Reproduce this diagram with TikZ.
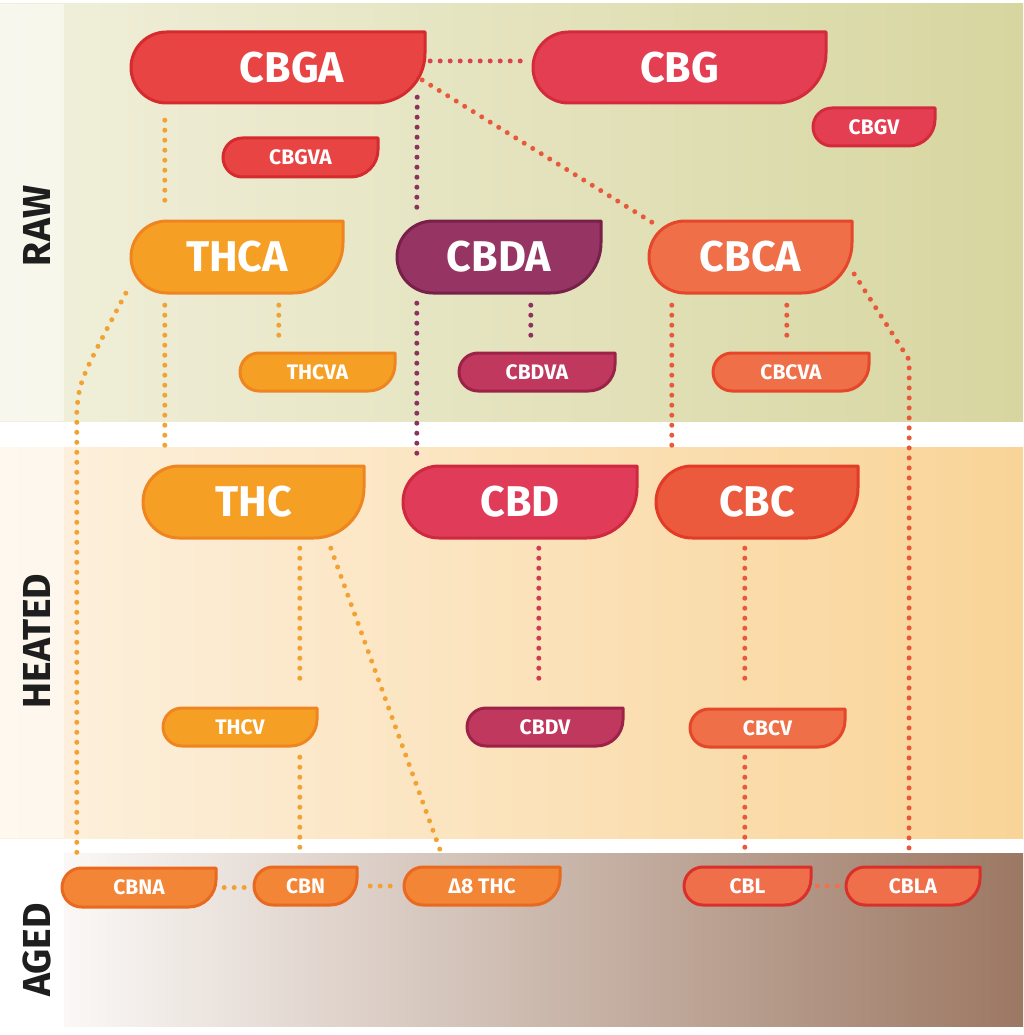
\documentclass[tikz,border=0pt]{standalone}
\usepackage{fontspec}
\setmainfont{Fira Sans}
\definecolor{rawL}{HTML}{F1F0DC}
\definecolor{rawR}{HTML}{D7D6A0}
\definecolor{heatL}{HTML}{FDF1E0}
\definecolor{heatR}{HTML}{F9D497}
\definecolor{agedL}{HTML}{FAF8F6}
\definecolor{agedM}{HTML}{C6AE9F}
\definecolor{agedR}{HTML}{9C7863}
\definecolor{cRed}{HTML}{E84444}\definecolor{cRedD}{HTML}{D52B2E}
\definecolor{cCrim}{HTML}{E33E52}\definecolor{cCrimD}{HTML}{D42B3C}
\definecolor{cOr}{HTML}{F5A024}\definecolor{cOrD}{HTML}{EE8520}
\definecolor{cPlum}{HTML}{963564}\definecolor{cPlumD}{HTML}{77214A}
\definecolor{cBerry}{HTML}{C1385F}\definecolor{cBerryD}{HTML}{9C2348}
\definecolor{cCoral}{HTML}{EE6F48}\definecolor{cCoralD}{HTML}{E5472B}
\definecolor{cPink}{HTML}{E03C5A}\definecolor{cPinkD}{HTML}{CF2940}
\definecolor{cCbc}{HTML}{EB5A3C}\definecolor{cCbcD}{HTML}{E23B26}
\definecolor{cAor}{HTML}{F28536}\definecolor{cAorD}{HTML}{E8691F}
\definecolor{cAco}{HTML}{EF6F4A}\definecolor{cAcoD}{HTML}{D9302B}
\definecolor{dOrange}{HTML}{F2A233}
\definecolor{dPlum}{HTML}{8C3160}
\definecolor{dRed}{HTML}{D9434F}
\definecolor{dCoral}{HTML}{E8583A}
\definecolor{dPink}{HTML}{D23A55}
\definecolor{dCbl}{HTML}{F07050}
\definecolor{labcol}{HTML}{1E1E1E}
\tikzset{
  leafstyle/.style={line width=3pt, line join=round},
  leaftext/.style={inner sep=0pt, text=white},
  big/.style={font=\fontsize{43}{43}\selectfont\bfseries},
  small/.style={font=\fontsize{21}{21}\selectfont\bfseries},
  sRed/.style={fill=cRed, draw=cRedD},
  sCrim/.style={fill=cCrim, draw=cCrimD},
  sOrange/.style={fill=cOr, draw=cOrD},
  sPlum/.style={fill=cPlum, draw=cPlumD},
  sBerry/.style={fill=cBerry, draw=cBerryD},
  sCoral/.style={fill=cCoral, draw=cCoralD},
  sPink/.style={fill=cPink, draw=cPinkD},
  sCbc/.style={fill=cCbc, draw=cCbcD},
  sAor/.style={fill=cAor, draw=cAorD},
  sAcoral/.style={fill=cAco, draw=cAcoD},
  dotline/.style={line width=5pt, line cap=round, dash pattern=on 0pt off 10pt},
  sidelabel/.style={rotate=90, text=labcol, inner sep=0pt, font=\fontsize{39}{39}\selectfont\bfseries},
}
% name, x0, y0, x1, y1 (pixels, y down), colour style, text style, text
\newcommand\leaf[8]{%
  \pgfmathsetmacro\lh{#5-#3}%
  \pgfmathsetmacro\lr{\lh/2}%
  \pgfmathsetmacro\lc{0.7*\lh}%
  \path[leafstyle,#6] (#2+\lr,-#3) -- (#4,-#3) -- (#4,-#5+\lc)
    arc[start angle=0,end angle=-90,radius=\lc] -- (#2+\lr,-#5)
    arc[start angle=270,end angle=90,radius=\lr] -- cycle;
  \node[leaftext,#7,minimum width={(#4-#2)*1pt},minimum height={\lh*1pt}] (#1)
    at ({(#2+#4)/2},{-(#3+#5)/2}) {#8};
}
\begin{document}
\begin{tikzpicture}[x=1pt,y=1pt]
\useasboundingbox (0,0) rectangle (1023,-1035);
\fill[white] (0,0) rectangle (1023,-1035);
% bands
\shade[left color=rawL, right color=rawR] (0,-4) rectangle (1023,-421);
\shade[left color=heatL, right color=heatR] (0,-447) rectangle (1023,-838);
\shade[left color=agedL, middle color=agedM, right color=agedR] (64,-853) rectangle (1023,-1026);
\fill[white, opacity=0.5] (0,-4) rectangle (64,-421);
\fill[white, opacity=0.5] (0,-447) rectangle (64,-838);
% side labels
\node[sidelabel] (raw) at (37,-226) {RAW};
\node[sidelabel] (heated) at (37,-641) {HEATED};
\node[sidelabel] (aged) at (37,-950) {AGED};
% nodes
\leaf{cbga}{131}{32}{425}{103}{sRed}{big}{\hspace*{28pt}CBGA}
\leaf{cbg}{533}{32}{826}{103}{sCrim}{big}{CBG}
\leaf{cbgv}{813}{108}{935}{146}{sCrim}{small}{CBGV}
\leaf{cbgva}{223}{138}{378}{177}{sRed}{small}{CBGVA}
\leaf{thca}{131}{221}{343}{293}{sOrange}{big}{THCA}
\leaf{cbda}{397}{221}{601}{293}{sPlum}{big}{CBDA}
\leaf{cbca}{649}{221}{852}{293}{sCoral}{big}{CBCA}
\leaf{thcva}{240}{353}{395}{391}{sOrange}{small}{THCVA}
\leaf{cbdva}{459}{353}{615}{391}{sBerry}{small}{CBDVA}
\leaf{cbcva}{713}{353}{869}{391}{sCoral}{small}{CBCVA}
\leaf{thc}{143}{466}{364}{538}{sOrange}{big}{THC}
\leaf{cbd}{403}{466}{637}{538}{sPink}{big}{CBD}
\leaf{cbc}{656}{466}{858}{538}{sCbc}{big}{CBC}
\leaf{thcv}{163}{708}{317}{746}{sOrange}{small}{THCV}
\leaf{cbdv}{467}{708}{623}{746}{sBerry}{small}{CBDV}
\leaf{cbcv}{690}{709}{845}{747}{sCoral}{small}{CBCV}
\leaf{cbna}{62}{868}{216}{907}{sAor}{small}{CBNA}
\leaf{cbn}{254}{867}{357}{905}{sAor}{small}{CBN}
\leaf{deltathc}{404}{867}{560}{905}{sAor}{small}{Δ8 THC}
\leaf{cbl}{684}{867}{811}{905}{sAcoral}{small}{CBL}
\leaf{cbla}{846}{867}{980}{905}{sAcoral}{small}{CBLA}
% connectors
\draw[dotline, dRed] ([xshift=5pt,yshift=6.5pt]cbga.east) -- ([xshift=-10pt,yshift=6.5pt]cbg.west);
\draw[dotline, dOrange] ([xshift=34pt,yshift=-17pt]cbga.south west) -- ([xshift=34pt,yshift=16pt]thca.north west);
\draw[dotline, dOrange] ([xshift=34pt,yshift=-12pt]thca.south west) -- ([xshift=22pt,yshift=11pt]thc.north west);
\draw[dotline, dPlum] ([xshift=-8pt,yshift=6pt]cbga.south east) -- ([xshift=20pt,yshift=11pt]cbda.north west);
\draw[dotline, dPlum] ([xshift=20pt,yshift=-10pt]cbda.south west) -- ([xshift=14pt,yshift=11pt]cbd.north west);
\draw[dotline, dCoral] ([xshift=-3pt,yshift=-12.5pt]cbga.east) -- ([xshift=4pt,yshift=-2pt]cbca.north west);
\draw[dotline, dOrange] ([xshift=148pt,yshift=-12pt]thca.south west) -- ([xshift=39pt,yshift=11pt]thcva.north west);
\draw[dotline, dPlum] ([xshift=134pt,yshift=-12pt]cbda.south west) -- ([xshift=72pt,yshift=11pt]cbdva.north west);
\draw[dotline, dCoral] ([xshift=138pt,yshift=-12pt]cbca.south west) -- ([xshift=74pt,yshift=11pt]cbcva.north west);
\draw[dotline, dCoral] ([xshift=23pt,yshift=-12pt]cbca.south west) -- ([xshift=16pt,yshift=11pt]cbc.north west);
\draw[dotline, dCoral] ([xshift=2pt,yshift=-17pt]cbca.east) -- ++(55,-86) -- ([xshift=-4pt,yshift=12pt]cbla.north);
\draw[dotline, dOrange] ([xshift=-5pt]thca.south west) .. controls +(-46,-87) and +(3,30) .. ++(-49,-117) -- ([xshift=15pt,yshift=13pt]cbna.north west);
\draw[dotline, dOrange] ([xshift=157pt,yshift=-10pt]thc.south west) -- ([xshift=137pt,yshift=20pt]thcv.north west);
\draw[dotline, dOrange] ([xshift=137pt,yshift=-11pt]thcv.south west) -- ([xshift=46pt,yshift=14pt]cbn.north west);
\draw[dotline, dOrange] ([xshift=188pt,yshift=-10pt]thc.south west) -- ([xshift=38pt,yshift=12pt]deltathc.north west);
\draw[dotline, dPink] ([xshift=136pt,yshift=-10pt]cbd.south west) -- ([xshift=72pt,yshift=20pt]cbdv.north west);
\draw[dotline, dCoral] ([xshift=89pt,yshift=-10pt]cbc.south west) -- ([xshift=55pt,yshift=21pt]cbcv.north west);
\draw[dotline, dCoral] ([xshift=55pt,yshift=-10pt]cbcv.south west) -- ([xshift=61pt,yshift=14pt]cbl.north west);
\draw[dotline, dOrange] ([xshift=8pt]cbna.east) -- ([xshift=-6pt,yshift=-1.5pt]cbn.west);
\draw[dotline, dOrange] ([xshift=13pt]cbn.east) -- ([xshift=-9pt]deltathc.west);
\draw[dotline, dCbl] ([xshift=6pt]cbl.east) -- ([xshift=-5pt]cbla.west);
\end{tikzpicture}
\end{document}
